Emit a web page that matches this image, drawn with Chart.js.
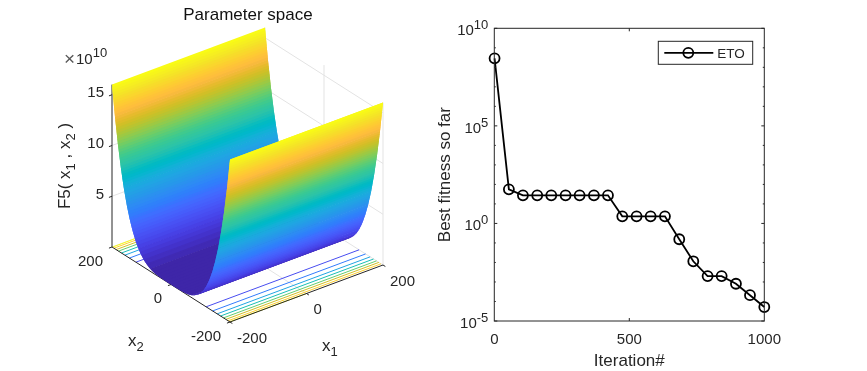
<!DOCTYPE html>
<html>
<head>
<meta charset="utf-8">
<title>Parameter space</title>
<script src="https://cdn.jsdelivr.net/npm/chart.js@4"></script>
<style>
  html, body { margin: 0; background: #fff; }
  canvas { position: absolute; top: 0; }
  #surfaceChart { left: 0; }
  #fitnessChart { left: 430px; }
</style>
</head>
<body>
<canvas id="surfaceChart" width="496" height="371"></canvas>
<canvas id="fitnessChart" width="437" height="371"></canvas>
<script>
// Left panel: surface profile read along x2 (z in units of 1e10), constant along x1
const x1Range = [-200, 200];
const x2Grid = [200, 190, 180, 170, 160, 150, 140, 130, 120, 110, 100, 90, 80, 70, 60, 50, 40, 30, 20, 10, 0,
  -10, -20, -30, -40, -50, -60, -70, -80, -90, -100, -110, -120, -130, -140, -150, -160, -170, -180, -190, -200];
const surfaceZ = [16, 13.03, 10.5, 8.35, 6.55, 5.06, 3.84, 2.86, 2.07, 1.46, 1, 0.656, 0.41, 0.24, 0.13, 0.0625, 0.026, 0.008, 0.002, 0, 0,
  0, 0.002, 0.008, 0.026, 0.0625, 0.13, 0.24, 0.41, 0.656, 1, 1.46, 2.07, 2.86, 3.84, 5.06, 6.55, 8.35, 10.5, 13.03, 16];
// Floor contours
const contourLevels = [2, 4, 6, 8, 10, 12, 14];
const contourX2 = [119, 141, 156.5, 168, 178, 186, 193.5];
const zTicks = [5, 10, 15];
const zTop = 16;
const x1Ticks = [-200, 0, 200];
const x2Ticks = [-200, 0, 200];

// Right panel: convergence curve
const iterations = [1, 54, 106, 159, 211, 264, 316, 369, 421, 474, 527, 579, 632, 685, 737, 790, 842, 895, 947, 1000];
const bestFitness = [2.9e8, 56, 27.5, 27.5, 27.5, 27.5, 27.5, 27.5, 27.5, 2.3, 2.3, 2.3, 2.3, 0.155, 0.0115, 0.002, 0.002, 8.1e-4, 2.1e-4, 5.2e-5];
const yPowers = [10, 5, 0, -5];
const yMinorPowers = [9, 8, 7, 6, 4, 3, 2, 1, -1, -2, -3, -4];

// Parula, 64 levels
const parula = [[.2422,.1504,.6603],[.2504,.165,.7076],[.2578,.1818,.7511],[.2647,.1978,.7952],[.2706,.2147,.8364],[.2751,.2342,.871],[.2783,.2559,.8991],[.2803,.2782,.9221],
  [.2813,.3006,.9414],[.281,.3228,.9579],[.2795,.3447,.9717],[.276,.3667,.9829],[.2699,.3892,.9906],[.2602,.4123,.9952],[.244,.4358,.9988],[.2206,.4603,.9973],
  [.1963,.4847,.9892],[.1834,.5074,.9798],[.1786,.5289,.9682],[.1764,.5499,.952],[.1687,.5703,.9359],[.154,.5902,.9218],[.146,.6091,.9079],[.138,.6276,.8973],
  [.1248,.6459,.8883],[.1113,.6635,.8763],[.0952,.6798,.8598],[.0689,.6948,.8394],[.0297,.7082,.8163],[.0036,.7203,.7917],[.0067,.7312,.766],[.0433,.7411,.7394],
  [.0964,.75,.712],[.1408,.7584,.6842],[.1717,.767,.6554],[.1938,.7758,.6251],[.2161,.7843,.5923],[.247,.7918,.5567],[.2906,.7973,.5188],[.3406,.8008,.4789],
  [.3909,.8029,.4354],[.4456,.8024,.3909],[.5044,.7993,.348],[.5616,.7942,.3045],[.6174,.7876,.2612],[.672,.7793,.2227],[.7242,.7698,.191],[.7738,.7598,.1646],
  [.8203,.7498,.1535],[.8634,.7406,.1596],[.9035,.733,.1774],[.9393,.7288,.21],[.9728,.7298,.2394],[.9956,.7434,.2371],[.997,.7659,.2199],[.9952,.7893,.2028],
  [.9892,.8136,.1885],[.9786,.8386,.1766],[.9676,.8639,.1643],[.961,.889,.1537],[.9597,.9135,.1423],[.9628,.9373,.1265],[.9691,.9606,.1064],[.9769,.9839,.0805]];

const AXIS_COLOR = "#262626";
const GRID_COLOR = "#e3e3e3";
const FONT = "'Liberation Sans', Arial, sans-serif";

function parulaColor(z) {
  const k = Math.min(63, Math.max(0, Math.floor(z / zTop * 64)));
  const c = parula[k];
  return `rgb(${Math.round(c[0] * 255)},${Math.round(c[1] * 255)},${Math.round(c[2] * 255)})`;
}

// Fixed MATLAB style view, maps (x1, x2, z) to the hidden scales of the left chart
function project(x1, x2, z) {
  return {
    x: 247.5 + 76.5 * x1 / 200 - 59 * x2 / 200,
    y: 256 - 28.5 * x1 / 200 - 37.5 * x2 / 200 - 10.15 * z
  };
}

function lineSet(points, color, width) {
  return {
    data: points.map(p => project(p[0], p[1], p[2])),
    showLine: true, fill: false, pointRadius: 0, tension: 0, clip: false,
    borderColor: color, borderWidth: width
  };
}

// Cut the profile into colour bands, back to front (x2 from 200 down to -200).
// Each band runs on under the next one so no seams show between them.
function surfaceBands() {
  const step = zTop / 64;
  const edges = [];
  for (let i = 0; i < x2Grid.length - 1; i++) {
    const a = x2Grid[i], b = x2Grid[i + 1], za = surfaceZ[i], zb = surfaceZ[i + 1];
    const cuts = [0];
    const lo = Math.min(za, zb), hi = Math.max(za, zb);
    for (let k = Math.ceil(lo / step); k * step < hi; k++) {
      if (k * step > lo) cuts.push((k * step - za) / (zb - za));
    }
    cuts.sort((p, q) => p - q);
    cuts.forEach(t => edges.push({ x2: a + (b - a) * t, z: za + (zb - za) * t }));
  }
  edges.push({ x2: x2Grid[x2Grid.length - 1], z: surfaceZ[surfaceZ.length - 1] });

  const bands = [];
  const [x1Lo, x1Hi] = x1Range;
  for (let i = 0; i < edges.length - 1; i++) {
    const a = edges[i], b = edges[i + 1], c = edges[Math.min(i + 2, edges.length - 1)];
    const color = parulaColor((a.z + b.z) / 2);
    const set = lineSet([[x1Lo, a.x2, a.z], [x1Hi, a.x2, a.z], [x1Hi, b.x2, b.z], [x1Hi, c.x2, c.z], [x1Lo, c.x2, c.z], [x1Lo, b.x2, b.z]], color, 0);
    set.polygonFill = color;
    bands.push(set);
  }
  return bands;
}

function surfaceDatasets() {
  const sets = [];
  const [x1Lo, x1Hi] = x1Range;
  // back wall and floor grid
  zTicks.forEach(z => {
    sets.push(lineSet([[x1Lo, 200, z], [x1Hi, 200, z], [x1Hi, -200, z]], GRID_COLOR, 1));
  });
  sets.push(lineSet([[x1Hi, 200, 0], [x1Hi, 200, zTop]], GRID_COLOR, 1));
  sets.push(lineSet([[x1Hi, -200, 0], [x1Hi, -200, zTop]], GRID_COLOR, 1));
  sets.push(lineSet([[0, 200, 0], [0, 200, zTop]], GRID_COLOR, 1));
  sets.push(lineSet([[x1Hi, 0, 0], [x1Hi, 0, zTop]], GRID_COLOR, 1));
  sets.push(lineSet([[x1Lo, 200, 0], [x1Hi, 200, 0], [x1Hi, -200, 0]], GRID_COLOR, 1));
  sets.push(lineSet([[0, 200, 0], [0, -200, 0]], GRID_COLOR, 1));
  sets.push(lineSet([[x1Lo, 0, 0], [x1Hi, 0, 0]], GRID_COLOR, 1));
  // contours on the floor
  contourX2.forEach((x2, i) => {
    const color = parulaColor(contourLevels[i]);
    sets.push(lineSet([[x1Lo, x2, 0], [x1Hi, x2, 0]], color, 1));
    sets.push(lineSet([[x1Lo, -x2, 0], [x1Hi, -x2, 0]], color, 1));
  });
  sets.push(lineSet([[x1Lo, 199, 0], [0, 200, 0]], parulaColor(zTop), 1));
  sets.push(lineSet([[x1Lo, -199, 0], [0, -200, 0]], parulaColor(zTop), 1));
  // axes
  sets.push(lineSet([[x1Lo, 200, 0], [x1Lo, 200, zTop]], AXIS_COLOR, 1));
  sets.push(lineSet([[x1Lo, 200, 0], [x1Lo, -200, 0]], AXIS_COLOR, 1));
  sets.push(lineSet([[x1Lo, -200, 0], [x1Hi, -200, 0]], AXIS_COLOR, 1));
  zTicks.forEach(z => sets.push(lineSet([[x1Lo, 200, z], [x1Lo - 8, 200, z]], AXIS_COLOR, 1)));
  x2Ticks.forEach(v => sets.push(lineSet([[x1Lo, v, 0], [x1Lo - 8, v, 0]], AXIS_COLOR, 1)));
  x1Ticks.forEach(v => sets.push(lineSet([[v, -200, 0], [v, -208, 0]], AXIS_COLOR, 1)));
  return sets.concat(surfaceBands()).reverse(); // chart.js paints the last dataset first
}

// Filled polygons for the datasets that have a polygonFill
const polygonPlugin = {
  id: "polygonFill",
  beforeDatasetDraw(chart, args) {
    const ds = chart.data.datasets[args.index];
    if (!ds.polygonFill) return;
    const ctx = chart.ctx;
    ctx.save();
    ctx.beginPath();
    args.meta.data.forEach((pt, i) => i ? ctx.lineTo(pt.x, pt.y) : ctx.moveTo(pt.x, pt.y));
    ctx.closePath();
    ctx.fillStyle = ds.polygonFill;
    ctx.fill();
    ctx.restore();
  }
};

// writes runs of text, {t, size, dy} where dy moves sub and superscripts
function richText(ctx, runs, x, y, align) {
  ctx.textAlign = "left";
  ctx.textBaseline = "alphabetic";
  const widths = runs.map(r => { ctx.font = `${r.size}px ${FONT}`; return ctx.measureText(r.t).width; });
  const total = widths.reduce((a, b) => a + b, 0);
  let cx = x;
  if (align === "center") cx = x - total / 2;
  if (align === "right") cx = x - total;
  runs.forEach((r, i) => {
    ctx.font = `${r.size}px ${FONT}`;
    ctx.fillText(r.t, cx, y + (r.dy || 0));
    cx += widths[i];
  });
}

function subLabel(sub) {
  return [{ t: "x", size: 17 }, { t: sub, size: 13, dy: 5 }];
}

const surfaceText = {
  id: "surfaceText",
  afterDraw(chart) {
    const ctx = chart.ctx;
    const xs = chart.scales.x, ys = chart.scales.y;
    const at = (x1, x2, z) => {
      const p = project(x1, x2, z);
      return { x: xs.getPixelForValue(p.x), y: ys.getPixelForValue(p.y) };
    };
    ctx.save();
    ctx.fillStyle = AXIS_COLOR;
    zTicks.forEach(z => {
      const p = at(x1Range[0], 200, z);
      richText(ctx, [{ t: String(z), size: 15 }], p.x - 8, p.y + 2.5, "right");
    });
    x2Ticks.forEach(v => {
      const p = at(x1Range[0], v, 0);
      richText(ctx, [{ t: String(v), size: 15 }], p.x - 9, p.y + 18.5, "right");
    });
    x1Ticks.forEach(v => {
      const p = at(v, -200, 0);
      richText(ctx, [{ t: String(v), size: 15 }], p.x + 7, p.y + 20.5, "left");
    });
    richText(ctx, subLabel("2"), 128, 346, "left");
    richText(ctx, subLabel("1"), 322, 351, "left");

    // exponent over the z axis
    ctx.fillStyle = "#595959";
    richText(ctx, [{ t: "\u00d7", size: 19 }], 64, 65, "left");
    ctx.fillStyle = AXIS_COLOR;
    richText(ctx, [{ t: "10", size: 15 }, { t: "10", size: 13, dy: -7 }], 76, 64, "left");

    // rotated z label
    ctx.translate(70, 166);
    ctx.rotate(-Math.PI / 2);
    richText(ctx, [
      { t: "F5( x", size: 17 }, { t: "1", size: 13, dy: 5 },
      { t: " , x", size: 17 }, { t: "2", size: 13, dy: 5 },
      { t: " )", size: 17 }
    ], 0, 0, "center");
    ctx.restore();
  }
};

new Chart(document.getElementById("surfaceChart"), {
  type: "scatter",
  data: { datasets: surfaceDatasets() },
  options: {
    responsive: false,
    animation: false,
    events: [],
    layout: { padding: 0 },
    plugins: {
      legend: { display: false },
      tooltip: { enabled: false },
      title: {
        display: true,
        text: "Parameter space",
        color: "#111",
        font: { family: FONT, size: 17, weight: "normal", lineHeight: 1.2 },
        padding: { top: 4.8, bottom: -0.2 }
      }
    },
    scales: {
      x: { type: "linear", display: false, min: 0, max: 496 },
      y: { type: "linear", display: false, min: 25, max: 371, reverse: true }
    }
  },
  plugins: [polygonPlugin, surfaceText]
});

// Box, inward ticks, power of ten labels and the legend for the right chart
const fitnessFrame = {
  id: "fitnessFrame",
  afterDatasetsDraw(chart) {
    const ctx = chart.ctx, area = chart.chartArea;
    const xs = chart.scales.x, ys = chart.scales.y;
    ctx.save();
    ctx.strokeStyle = AXIS_COLOR;
    ctx.lineWidth = 1;
    const seg = (x0, y0, x1, y1) => { ctx.beginPath(); ctx.moveTo(x0, y0); ctx.lineTo(x1, y1); ctx.stroke(); };
    ctx.strokeRect(area.left, area.top, area.right - area.left, area.bottom - area.top);
    yPowers.forEach(p => {
      const y = ys.getPixelForValue(Math.pow(10, p));
      seg(area.left, y, area.left + 3, y);
      seg(area.right, y, area.right - 3, y);
    });
    yMinorPowers.forEach(p => {
      const y = ys.getPixelForValue(Math.pow(10, p));
      seg(area.left, y, area.left + 1.5, y);
      seg(area.right, y, area.right - 1.5, y);
    });
    const x500 = xs.getPixelForValue(500);
    seg(x500, area.top, x500, area.top + 3);
    seg(x500, area.bottom, x500, area.bottom - 3);

    ctx.fillStyle = AXIS_COLOR;
    yPowers.forEach(p => {
      const y = ys.getPixelForValue(Math.pow(10, p));
      richText(ctx, [{ t: "10", size: 15 }, { t: String(p), size: 13, dy: -6 }], area.left - 6, y + 7, "right");
    });

    // legend
    const lx = 228.3, ly = 41.3, lw = 94.4, lh = 23;
    ctx.fillStyle = "#fff";
    ctx.fillRect(lx, ly, lw, lh);
    ctx.strokeRect(lx, ly, lw, lh);
    ctx.strokeStyle = "#000";
    ctx.lineWidth = 1.8;
    seg(lx + 6, ly + 11.5, lx + 55, ly + 11.5);
    ctx.beginPath();
    ctx.arc(lx + 30, ly + 11.5, 5, 0, Math.PI * 2);
    ctx.stroke();
    ctx.fillStyle = AXIS_COLOR;
    richText(ctx, [{ t: chart.data.datasets[0].label, size: 13.5 }], lx + 59, ly + 17, "left");
    ctx.restore();
  }
};

new Chart(document.getElementById("fitnessChart"), {
  type: "line",
  data: {
    datasets: [{
      label: "ETO",
      data: iterations.map((it, i) => ({ x: it, y: bestFitness[i] })),
      borderColor: "#000",
      borderWidth: 1.8,
      tension: 0,
      clip: false,
      pointRadius: 5,
      pointBorderWidth: 1.8,
      pointBorderColor: "#000",
      pointBackgroundColor: "rgba(0,0,0,0)"
    }]
  },
  options: {
    responsive: false,
    animation: false,
    events: [],
    layout: { padding: { top: 28.3, right: 102.7, left: 0, bottom: 0 } },
    plugins: { legend: { display: false }, tooltip: { enabled: false } },
    scales: {
      x: {
        type: "linear",
        min: 0,
        max: 1000,
        grid: { display: false, drawTicks: false },
        border: { display: false },
        ticks: {
          stepSize: 500,
          maxRotation: 0,
          padding: 10,
          color: AXIS_COLOR,
          font: { family: FONT, size: 15 },
          callback: v => String(v)
        },
        title: {
          display: true,
          text: "Iteration#",
          color: AXIS_COLOR,
          font: { family: FONT, size: 17 },
          padding: { top: 0, bottom: -1 }
        },
        afterFit(scale) { scale.height = 50; }
      },
      y: {
        type: "logarithmic",
        min: 1e-5,
        max: 1e10,
        grid: { display: false, drawTicks: false },
        border: { display: false },
        ticks: { display: false },
        title: {
          display: true,
          text: "Best fitness so far",
          color: AXIS_COLOR,
          font: { family: FONT, size: 17 },
          padding: { top: 5, bottom: 0 }
        },
        afterFit(scale) { scale.width = 64.3; }
      }
    }
  },
  plugins: [fitnessFrame]
});
</script>
</body>
</html>
